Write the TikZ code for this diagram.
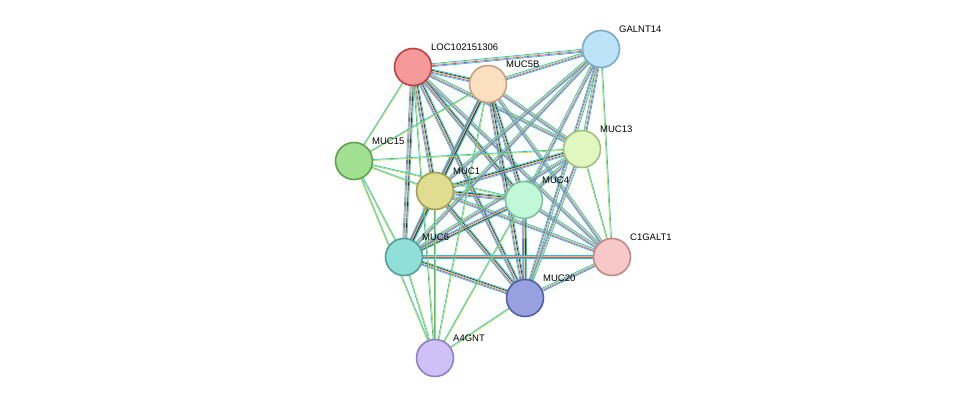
\documentclass[tikz,border=0pt]{standalone}
\usepackage{fontspec}
\setmainfont{Liberation Sans}
\usetikzlibrary{calc,backgrounds}

\definecolor{lkcyan}{HTML}{20C0E0}
\definecolor{lkmag}{HTML}{D040D0}
\definecolor{lkyel}{HTML}{C8D820}
\definecolor{lkblk}{HTML}{303030}
\definecolor{lkblue}{HTML}{3050C0}

\tikzset{
  prot/.style={circle,minimum size=37pt,inner sep=0pt,line width=1.6pt},
  lbl/.style={font=\fontsize{9.5}{11}\selectfont,anchor=south west,inner sep=1pt},
  lnk/.style={line width=0.7pt}
}

% bundle of parallel lines: nodes, list of colour/offset
\newcommand\linkset[3]{%
  \foreach \c/\o in {#3}
    \draw[lnk,\c] ($(#1)!\o pt!90:(#2)$) -- ($(#2)!\o pt!-90:(#1)$);}
\newcommand\lkstrong[2]{\linkset{#1}{#2}{lkcyan/-2.0,lkmag/-1.0,lkyel/0,lkblk/1.0,lkcyan/2.0}}
\newcommand\lkmedium[2]{\linkset{#1}{#2}{lkcyan/-1.5,lkmag/-0.5,lkyel/0.5,lkcyan/1.5}}
\newcommand\lkweak[2]{\linkset{#1}{#2}{lkyel/-0.5,lkcyan/0.5}}

\begin{document}
\begin{tikzpicture}[x=1pt,y=-1pt]
  \useasboundingbox (0,0) rectangle (975,404);

  \node[prot,fill={rgb,255:red,245;green,154;blue,154},draw={rgb,255:red,192;green,64;blue,64}] (loc) at (413,67) {};
  \node[prot,fill={rgb,255:red,253;green,224;blue,192},draw={rgb,255:red,200;green,160;blue,128}] (muc5b) at (488,84) {};
  \node[prot,fill={rgb,255:red,189;green,227;blue,248},draw={rgb,255:red,122;green,170;blue,200}] (galnt) at (601,49) {};
  \node[prot,fill={rgb,255:red,224;green,248;blue,192},draw={rgb,255:red,160;green,192;blue,128}] (muc13) at (582,149) {};
  \node[prot,fill={rgb,255:red,160;green,224;blue,144},draw={rgb,255:red,96;green,160;blue,80}] (muc15) at (354,161) {};
  \node[prot,fill={rgb,255:red,224;green,220;blue,144},draw={rgb,255:red,160;green,160;blue,80}] (muc1) at (435,191) {};
  \node[prot,fill={rgb,255:red,192;green,248;blue,216},draw={rgb,255:red,128;green,192;blue,160}] (muc4) at (524,200) {};
  \node[prot,fill={rgb,255:red,248;green,200;blue,200},draw={rgb,255:red,192;green,136;blue,136}] (c1galt) at (612,257) {};
  \node[prot,fill={rgb,255:red,144;green,224;blue,216},draw={rgb,255:red,80;green,160;blue,152}] (muc6) at (404,257) {};
  \node[prot,fill={rgb,255:red,152;green,160;blue,224},draw={rgb,255:red,80;green,96;blue,168}] (muc20) at (525,298) {};
  \node[prot,fill={rgb,255:red,208;green,192;blue,248},draw={rgb,255:red,144;green,128;blue,192}] (a4gnt) at (435,358) {};

  \node[lbl] (tloc) at (430,52) {LOC102151306};
  \node[lbl] (tmuc5b) at (505,69) {MUC5B};
  \node[lbl] (tgalnt) at (618,34) {GALNT14};
  \node[lbl] (tmuc13) at (599,134) {MUC13};
  \node[lbl] (tmuc15) at (371,146) {MUC15};
  \node[lbl] (tmuc1) at (452,176) {MUC1};
  \node[lbl] (tmuc4) at (541,185) {MUC4};
  \node[lbl] (tc1galt) at (629,242) {C1GALT1};
  \node[lbl] (tmuc6) at (421,242) {MUC6};
  \node[lbl] (tmuc20) at (542,283) {MUC20};
  \node[lbl] (ta4gnt) at (452,343) {A4GNT};

  \begin{scope}[on background layer]
    \lkstrong{loc}{muc5b} \lkstrong{loc}{muc1} \lkstrong{loc}{muc4} \lkstrong{loc}{muc6}
    \lkstrong{loc}{muc20} \lkmedium{loc}{muc13} \lkmedium{loc}{galnt} \lkmedium{loc}{c1galt}
    \lkstrong{muc5b}{muc1} \lkstrong{muc5b}{muc4} \lkstrong{muc5b}{muc6} \lkstrong{muc5b}{muc20}
    \lkmedium{muc5b}{muc13} \lkmedium{muc5b}{galnt} \lkmedium{muc5b}{c1galt}
    \lkstrong{muc1}{muc4} \lkstrong{muc1}{muc6} \lkstrong{muc1}{muc20} \lkstrong{muc1}{muc13}
    \lkmedium{muc1}{c1galt} \lkmedium{muc1}{galnt}
    \lkstrong{muc4}{muc6} \lkstrong{muc4}{muc20} \lkmedium{muc4}{muc13} \lkmedium{muc4}{galnt}
    \lkmedium{muc4}{c1galt}
    \lkstrong{muc6}{muc20} \lkmedium{muc6}{muc13} \lkmedium{muc6}{c1galt} \lkmedium{muc6}{galnt}
    \lkmedium{muc13}{muc20} \lkmedium{muc13}{galnt} \lkmedium{muc20}{c1galt} \lkmedium{galnt}{muc20}
    \lkweak{muc15}{loc} \lkweak{muc15}{muc5b} \lkweak{muc15}{muc1} \lkweak{muc15}{muc6}
    \lkweak{muc15}{muc13} \lkweak{muc15}{muc4} \lkweak{muc15}{a4gnt}
    \lkweak{a4gnt}{loc} \lkweak{a4gnt}{muc5b} \lkweak{a4gnt}{muc1} \lkweak{a4gnt}{muc4}
    \lkweak{a4gnt}{muc6} \lkweak{a4gnt}{muc20}
    \lkweak{galnt}{c1galt} \lkweak{muc13}{c1galt}
  \end{scope}
\end{tikzpicture}
\end{document}
